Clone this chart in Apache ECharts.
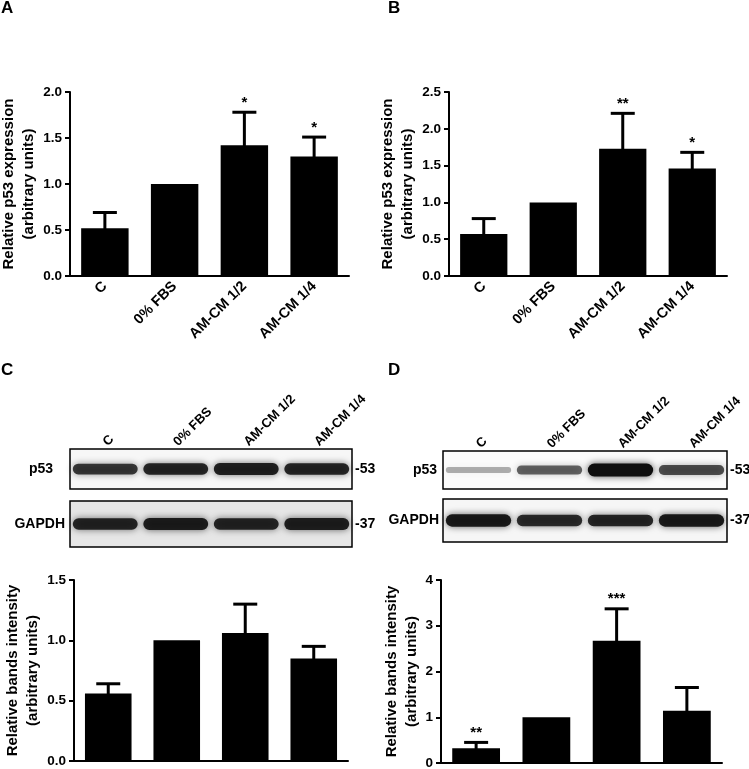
<!DOCTYPE html>
<html>
<head>
<meta charset="utf-8">
<script src="https://cdn.jsdelivr.net/npm/echarts@6/dist/echarts.min.js"></script>
<style>
  html, body { margin: 0; padding: 0; background: #fff; }
  #chart { width: 749px; height: 769px; }
</style>
</head>
<body>
<div id="chart"></div>
<script>
// groups shown on every panel
var groups = ['C', '0% FBS', 'AM-CM 1/2', 'AM-CM 1/4']

// A: relative p53 expression
var meanA = [0.52, 1.0, 1.42, 1.30]
var semA = [0.17, 0, 0.36, 0.21]
var sigA = ['', '', '*', '*']

// B: relative p53 expression
var meanB = [0.57, 1.0, 1.73, 1.46]
var semB = [0.21, 0, 0.48, 0.22]
var sigB = ['', '', '**', '*']

// C: relative bands intensity
var meanC = [0.56, 1.0, 1.06, 0.85]
var semC = [0.08, 0, 0.24, 0.10]
var sigC = ['', '', '', '']

// D: relative bands intensity
var meanD = [0.32, 1.0, 2.67, 1.14]
var semD = [0.13, 0, 0.70, 0.51]
var sigD = ['**', '', '***', '']

// western blot band darkness per lane (0..1)
var blotCp53 = [0.75, 0.85, 0.88, 0.85]
var blotCgapdh = [0.85, 0.9, 0.85, 0.88]
var blotDp53 = [0.2, 0.55, 1.0, 0.65]
var blotDgapdh = [0.92, 0.82, 0.85, 0.92]

var font = 'Arial, "Liberation Sans", sans-serif'
var chart = echarts.init(document.getElementById('chart'))

var grids = []
var xAxes = []
var yAxes = []
var series = []

function errRenderer(sig) {
  return function(params, api) {
    var i = api.value(0)
    var m = api.value(1)
    var s = api.value(2)
    var base = api.coord([i, m])
    var top = api.coord([i, m + s])
    var children = []
    if (s > 0) {
      children.push({ type: 'line', shape: { x1: top[0], y1: base[1] + 2, x2: top[0], y2: top[1] },
        style: { stroke: '#000', lineWidth: 3 }})
      children.push({ type: 'line', shape: { x1: top[0] - 12, y1: top[1], x2: top[0] + 12, y2: top[1] },
        style: { stroke: '#000', lineWidth: 3 }})
    }
    var txt = sig[params.dataIndex]
    if (txt) {
      children.push({ type: 'text', x: top[0], y: top[1] - 2,
        style: { text: txt, fill: '#000', font: 'bold 15px ' + font, align: 'center', verticalAlign: 'bottom' }})
    }
    return { type: 'group', children: children }
  }
}

function barPanel(box, max, interval, digits, yName, nameGap, showLabels, mean, sem, sig) {
  var gi = grids.length
  grids.push({ left: box[0], top: box[1], width: box[2], height: box[3], outerBoundsMode: 'none' })
  xAxes.push({
    gridIndex: gi, type: 'category', data: groups,
    axisLine: { lineStyle: { color: '#000', width: 2 }},
    axisTick: { alignWithLabel: true, length: 5, lineStyle: { color: '#000', width: 2 }},
    axisLabel: { show: showLabels, rotate: 45, margin: 8, color: '#000', fontSize: 14.5, fontWeight: 'bold', fontFamily: font }
  })
  var yi = yAxes.length
  yAxes.push({
    gridIndex: gi, type: 'value', min: 0, max: max, interval: interval,
    name: yName, nameLocation: 'middle', nameRotate: 90, nameGap: nameGap,
    nameTextStyle: { color: '#000', fontSize: 15, fontWeight: 'bold', fontFamily: font, lineHeight: 20 },
    splitLine: { show: false },
    axisLine: { show: true, lineStyle: { color: '#000', width: 2 }},
    axisTick: { show: true, length: 5, lineStyle: { color: '#000', width: 2 }},
    axisLabel: { margin: 8, color: '#000', fontSize: 13.5, fontWeight: 'bold', fontFamily: font,
      formatter: function(v) { return v.toFixed(digits) } }
  })
  series.push({
    type: 'bar', xAxisIndex: gi, yAxisIndex: yi, data: mean, barWidth: '68%',
    itemStyle: { color: '#000' }, silent: true
  })
  series.push({
    type: 'custom', xAxisIndex: gi, yAxisIndex: yi, z: 5,
    data: mean.map(function(m, i) { return [i, m, sem[i]] }),
    encode: { x: 0, y: 1 },
    renderItem: errRenderer(sig)
  })
}

function blotPanel(box, bg, name, nameMargin, marker, laneLabels, dark) {
  var gi = grids.length
  grids.push({ left: box[0], top: box[1], width: box[2], height: box[3], outerBoundsMode: 'none',
    show: true, backgroundColor: bg, borderColor: '#000', borderWidth: 1.5 })
  xAxes.push({
    gridIndex: gi, type: 'category', data: groups, position: 'top',
    axisLine: { show: false }, axisTick: { show: false },
    axisLabel: { show: laneLabels, rotate: -45, margin: 5, color: '#000', fontSize: 13, fontWeight: 'bold', fontFamily: font }
  })
  var yi = yAxes.length
  yAxes.push({
    gridIndex: gi, type: 'category', data: [name], position: 'left',
    axisLine: { show: false }, axisTick: { show: false },
    axisLabel: { margin: nameMargin, color: '#000', fontSize: 14, fontWeight: 'bold', fontFamily: font }
  })
  yAxes.push({
    gridIndex: gi, type: 'category', data: [marker], position: 'right',
    axisLine: { show: false }, axisTick: { show: false },
    axisLabel: { margin: 3, color: '#000', fontSize: 14, fontWeight: 'bold', fontFamily: font }
  })
  series.push({
    type: 'custom', xAxisIndex: gi, yAxisIndex: yi, silent: true,
    data: dark.map(function(k, i) { return [i, 0, k] }),
    encode: { x: 0, y: 1 },
    renderItem: function(params, api) {
      var c = api.coord([api.value(0), 0])
      var w = api.size([1, 0])[0]
      var k = api.value(2)
      var h = 4 + 9 * k
      return {
        type: 'rect',
        shape: { x: c[0] - w * 0.46, y: c[1] - h / 2, width: w * 0.92, height: h, r: h / 2 },
        style: { fill: 'rgba(15,15,15,' + (0.15 + 0.85 * k) + ')', shadowBlur: 7,
          shadowColor: 'rgba(0,0,0,' + (0.7 * k) + ')' }
      }
    }
  })
}

barPanel([70, 92, 279, 184], 2.0, 0.5, 1, 'Relative p53 expression\n(arbitrary units)', 30, true, meanA, semA, sigA)
barPanel([449, 92, 278, 184], 2.5, 0.5, 1, 'Relative p53 expression\n(arbitrary units)', 31, true, meanB, semB, sigB)
barPanel([74, 580, 274, 181], 1.5, 0.5, 1, 'Relative bands intensity\n(arbitrary units)', 31, false, meanC, semC, sigC)
barPanel([441, 580, 281, 183], 4, 1, 0, 'Relative bands intensity\n(arbitrary units)', 19, false, meanD, semD, sigD)

blotPanel([70, 449, 282, 40], '#f7f7f7', 'p53', 17, '-53', true, blotCp53)
blotPanel([70, 501, 282, 46], '#e6e6e6', 'GAPDH', 5, '-37', false, blotCgapdh)
blotPanel([443, 451, 284, 38], '#fbfbfb', 'p53', 6, '-53', true, blotDp53)
blotPanel([443, 499, 284, 43], '#f6f6f6', 'GAPDH', 4, '-37', false, blotDgapdh)

function letter(t, x, y) {
  return { type: 'text', left: x, top: y,
    style: { text: t, fill: '#000', font: 'bold 17px ' + font }}
}

chart.setOption({
  backgroundColor: '#fff',
  animation: false,
  graphic: [letter('A', 1, 0), letter('B', 388, 0), letter('C', 1, 362), letter('D', 388, 362)],
  grid: grids,
  xAxis: xAxes,
  yAxis: yAxes,
  series: series
})
</script>
</body>
</html>
